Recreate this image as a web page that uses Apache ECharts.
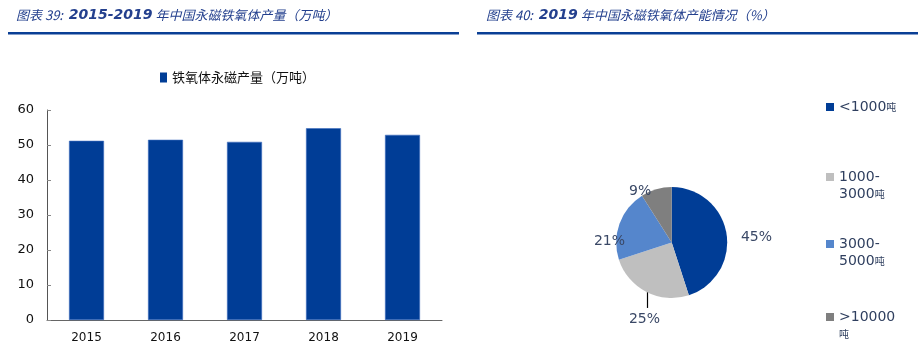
<!DOCTYPE html>
<html><head><meta charset="utf-8">
<script src="https://cdn.jsdelivr.net/npm/echarts@6/dist/echarts.min.js"></script>
<style>html,body{margin:0;padding:0;background:#fff}#c{width:924px;height:351px}</style>
</head><body><div id="c"></div>
<script>
// ---- data ----
const years = ['2015', '2016', '2017', '2018', '2019'];
const output = [51.2, 51.5, 50.9, 54.8, 52.9];
const barSeriesName = '铁氧体永磁产量（万吨）';
const yTicks = [0, 10, 20, 30, 40, 50, 60];
const capNames = ['<1000吨', '1000-3000吨', '3000-5000吨', '>10000吨'];
const capShares = [45, 25, 21, 9];
const capLegendText = ['<1000吨', '1000-\n3000吨', '3000-\n5000吨', '>10000\n吨'];
const title1 = ['图表 39:  ', '2015-2019', ' 年中国永磁铁氧体产量（万吨）'];
const title2 = ['图表 40:  ', '2019', ' 年中国永磁铁氧体产能情况（%）'];

// ---- styles ----
const navy = '#003d96';
const pieColors = ['#003d96', '#bfbfbf', '#5586cc', '#7f7f7f'];
const labelOffsets = [[30, 4], [-2, 27], [-10, 18], [-16, 2]];
const legendTops = [98.5, 151.5, 218.5, 291.5];
const titleColor = '#24408e';

const chart = echarts.init(document.getElementById('c'), null, {renderer: 'canvas'});

function titleRich() {
  return {
    a: {fontFamily: 'Noto Sans CJK SC', fontStyle: 'italic', fontWeight: 'normal', fontSize: 13, color: titleColor},
    b: {fontFamily: 'DejaVu Sans', fontStyle: 'italic', fontWeight: 'bold', fontSize: 14, color: titleColor}
  };
}
function titleText(parts) {
  return '{a|' + parts[0] + '}{b|' + parts[1] + '}{a|' + parts[2] + '}';
}

const pieLegends = capNames.map((n, i) => ({
  orient: 'vertical',
  left: 826,
  top: legendTops[i],
  padding: 0,
  itemWidth: 8,
  itemHeight: 8,
  itemGap: 0,
  icon: 'rect',
  itemStyle: {borderWidth: 0},
  data: [{name: n, textStyle: {padding: [capLegendText[i].includes('\n') ? 17 : 0, 0, 0, 0]}}],
  formatter: () => capLegendText[i].replace('吨', '{s|吨}'),
  textStyle: {
    fontFamily: 'DejaVu Sans', fontSize: 14, color: '#2f3f5f', lineHeight: 17,
    rich: {s: {fontFamily: 'Noto Sans CJK SC', fontSize: 10, color: '#2f3f5f', lineHeight: 17}}
  }
}));

chart.setOption({
  animation: false,
  title: [
    {text: titleText(title1), left: 16, top: 8, padding: 0, textStyle: {fontWeight: 'normal', rich: titleRich()}},
    {text: titleText(title2), left: 486, top: 8, padding: 0, textStyle: {fontWeight: 'normal', rich: titleRich()}}
  ],
  graphic: [
    {type: 'rect', shape: {x: 8, y: 32, width: 451, height: 2.5}, style: {fill: '#0a3f95'}},
    {type: 'rect', shape: {x: 477, y: 32, width: 441, height: 2.5}, style: {fill: '#0a3f95'}}
  ],
  legend: [{
    left: 160, top: 71, padding: 0, itemWidth: 7, itemHeight: 10, icon: 'rect', itemGap: 4,
    itemStyle: {borderWidth: 0},
    data: [barSeriesName],
    textStyle: {fontFamily: 'Noto Sans CJK SC', fontSize: 13, color: '#111'}
  }].concat(pieLegends),
  grid: {left: 47, right: 482, top: 110, bottom: 31, containLabel: false},
  xAxis: {
    type: 'category', data: years, boundaryGap: true,
    axisLine: {lineStyle: {color: '#666', width: 1}},
    axisTick: {inside: true, length: 4, lineStyle: {color: '#888'}},
    axisLabel: {fontFamily: 'DejaVu Sans', fontSize: 12, color: '#111', margin: 12}
  },
  yAxis: {
    type: 'value', min: yTicks[0], max: yTicks[yTicks.length - 1], interval: 10,
    axisLine: {show: true, lineStyle: {color: '#555', width: 1}},
    axisTick: {show: true, inside: true, length: 4, lineStyle: {color: '#888'}},
    splitLine: {show: false},
    axisLabel: {fontFamily: 'DejaVu Sans', fontSize: 13, color: '#111', margin: 13}
  },
  series: [
    {
      type: 'bar', name: barSeriesName, data: output, barWidth: 35,
      itemStyle: {color: navy, borderColor: '#3f6fc0', borderWidth: 0.6}
    },
    {
      type: 'pie', center: [671.7, 242.5], radius: 55.5, startAngle: 90, clockwise: true,
      avoidLabelOverlap: false,
      data: capNames.map((n, i) => ({name: n, value: capShares[i], itemStyle: {color: pieColors[i]}})),
      label: {
        show: true, position: 'outside', formatter: '{c}%',
        fontFamily: 'DejaVu Sans', fontSize: 14, color: '#3a4866'
      },
      labelLine: {show: true, length: 10, length2: 0, lineStyle: {color: '#000', width: 1.2}},
      labelLayout: function (p) {
        const i = p.dataIndex;
        const p0 = p.labelLinePoints[0];
        const o = labelOffsets[i];
        const res = {x: p0[0] + o[0], y: p0[1] + o[1], align: 'center', verticalAlign: 'middle'};
        if (i === 1) {
          res.labelLinePoints = [[p0[0] + 1, p0[1]], [p0[0] + 1, p0[1] + 16], [p0[0] + 1, p0[1] + 16]];
        } else {
          res.labelLinePoints = [p0, p0, p0];
        }
        return res;
      }
    }
  ]
});
</script></body></html>
